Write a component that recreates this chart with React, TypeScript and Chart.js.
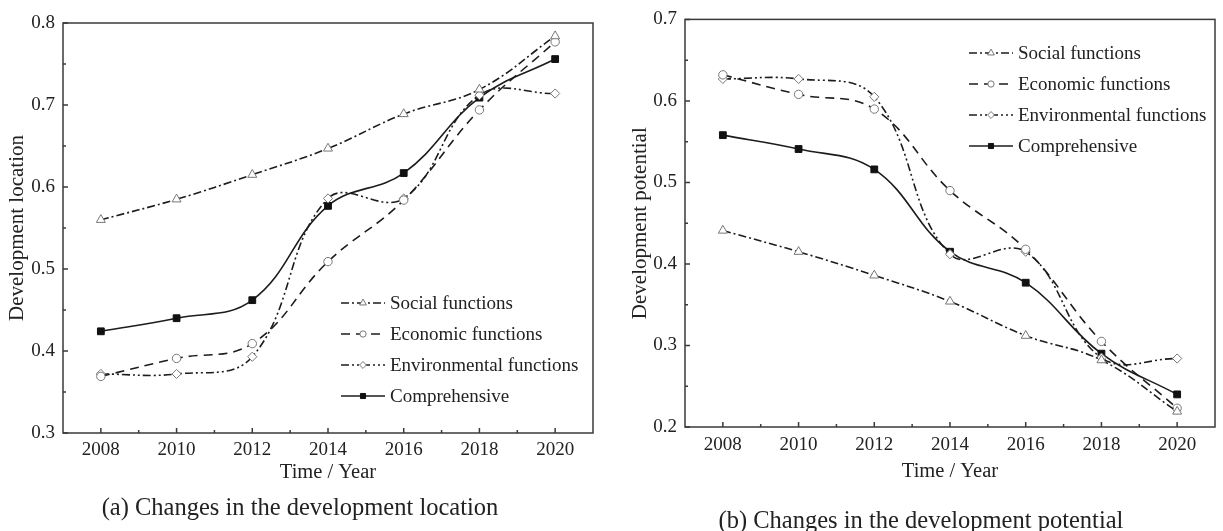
import React, { useEffect, useRef } from "react";
import { Chart, registerables } from "chart.js";

Chart.register(...registerables);

// ---------- data ----------
const years = [2008, 2010, 2012, 2014, 2016, 2018, 2020];
const xMinorTicks = [2009, 2011, 2013, 2015, 2017, 2019];

const seriesLabels = ["Social functions", "Economic functions", "Environmental functions", "Comprehensive"];

const locationYTicks = [0.3, 0.4, 0.5, 0.6, 0.7, 0.8];
const locationYMinor = [0.35, 0.45, 0.55, 0.65, 0.75];
const locationSocial = [0.56, 0.585, 0.615, 0.647, 0.689, 0.719, 0.784];
const locationEconomic = [0.369, 0.391, 0.409, 0.509, 0.584, 0.694, 0.777];
const locationEnvironmental = [0.372, 0.372, 0.393, 0.586, 0.586, 0.712, 0.714];
const locationComprehensive = [0.424, 0.44, 0.462, 0.577, 0.617, 0.709, 0.756];

const potentialYTicks = [0.2, 0.3, 0.4, 0.5, 0.6, 0.7];
const potentialYMinor = [0.25, 0.35, 0.45, 0.55, 0.65];
const potentialSocial = [0.441, 0.415, 0.386, 0.354, 0.312, 0.282, 0.219];
const potentialEconomic = [0.632, 0.608, 0.59, 0.49, 0.418, 0.305, 0.223];
const potentialEnvironmental = [0.627, 0.627, 0.605, 0.412, 0.415, 0.285, 0.284];
const potentialComprehensive = [0.558, 0.541, 0.516, 0.415, 0.377, 0.29, 0.24];

// ---------- styling ----------
const FONT = "'Liberation Serif', 'Times New Roman', serif";
const TEXT = "#222";
const LINE = "#1c1c1c";
const OPEN = "#777";

const styles = [
  { dash: [8, 3, 2, 3], point: "triangle", radius: 5.2, fill: "#fff", stroke: OPEN },
  { dash: [9, 6], point: "circle", radius: 4.2, fill: "#fff", stroke: OPEN },
  { dash: [8, 3, 2, 3, 2, 3], point: "rectRot", radius: 4.6, fill: "#fff", stroke: OPEN },
  { dash: [], point: "rect", radius: 4.8, fill: "#111", stroke: "#111" },
];

function drawMarker(ctx: CanvasRenderingContext2D, style: string, x: number, y: number, r: number) {
  ctx.beginPath();
  if (style === "triangle") {
    let rad = 0;
    ctx.moveTo(x + Math.sin(rad) * r, y - Math.cos(rad) * r);
    rad += (2 * Math.PI) / 3;
    ctx.lineTo(x + Math.sin(rad) * r, y - Math.cos(rad) * r);
    rad += (2 * Math.PI) / 3;
    ctx.lineTo(x + Math.sin(rad) * r, y - Math.cos(rad) * r);
    ctx.closePath();
  } else if (style === "circle") {
    ctx.arc(x, y, r, 0, Math.PI * 2);
  } else if (style === "rectRot") {
    ctx.moveTo(x - r, y);
    ctx.lineTo(x, y - r);
    ctx.lineTo(x + r, y);
    ctx.lineTo(x, y + r);
    ctx.closePath();
  } else {
    const s = Math.SQRT1_2 * r;
    ctx.rect(x - s, y - s, 2 * s, 2 * s);
  }
  ctx.fill();
  ctx.stroke();
}

const framePlugin = {
  id: "frame",
  afterDraw(chart: any, _args: any, opts: any) {
    const { ctx, chartArea: a, scales } = chart;
    const xs = scales.x;
    const ys = scales.y;
    ctx.save();
    ctx.strokeStyle = "#3a3a3a";
    ctx.lineWidth = 1.5;
    ctx.setLineDash([]);
    ctx.strokeRect(a.left, a.top, a.right - a.left, a.bottom - a.top);
    ctx.beginPath();
    years.forEach((v) => {
      const px = xs.getPixelForValue(v);
      ctx.moveTo(px, a.bottom);
      ctx.lineTo(px, a.bottom - 5);
    });
    xMinorTicks.forEach((v) => {
      const px = xs.getPixelForValue(v);
      ctx.moveTo(px, a.bottom);
      ctx.lineTo(px, a.bottom - 3);
    });
    (opts.yMajor as number[]).forEach((v) => {
      const py = ys.getPixelForValue(v);
      ctx.moveTo(a.left, py);
      ctx.lineTo(a.left + 5, py);
    });
    (opts.yMinor as number[]).forEach((v) => {
      const py = ys.getPixelForValue(v);
      ctx.moveTo(a.left, py);
      ctx.lineTo(a.left + 3, py);
    });
    ctx.stroke();

    // legend
    const lx = opts.legendX as number;
    let ly = opts.legendY as number;
    chart.data.datasets.forEach((ds: any, i: number) => {
      const st = styles[i];
      ctx.strokeStyle = LINE;
      ctx.lineWidth = 1.5;
      ctx.setLineDash(st.dash);
      ctx.beginPath();
      ctx.moveTo(lx, ly);
      ctx.lineTo(lx + 44, ly);
      ctx.stroke();
      ctx.setLineDash([]);
      ctx.lineWidth = 1;
      ctx.fillStyle = st.fill;
      ctx.strokeStyle = st.stroke;
      drawMarker(ctx, st.point, lx + 22, ly, st.radius * 0.75);
      ctx.fillStyle = TEXT;
      ctx.font = `19px ${FONT}`;
      ctx.textBaseline = "middle";
      ctx.textAlign = "left";
      ctx.fillText(ds.label, lx + 49, ly + 1);
      ly += 31;
    });
    ctx.restore();
  },
};

function makeDatasets(series: number[][]) {
  return series.map((vals, i) => {
    const st = styles[i];
    return {
      label: seriesLabels[i],
      data: years.map((x, j) => ({ x, y: vals[j] })),
      borderColor: LINE,
      borderWidth: 1.6,
      borderDash: st.dash,
      tension: 0.4,
      pointStyle: st.point,
      pointRadius: st.radius,
      pointBorderWidth: 1,
      pointBackgroundColor: st.fill,
      pointBorderColor: st.stroke,
      fill: false,
    };
  });
}

interface PanelProps {
  width: number;
  height: number;
  series: number[][];
  yTicks: number[];
  yMinor: number[];
  yTitle: string;
  yAxisWidth: number;
  yTitlePad: number;
  xAxisHeight: number;
  xTickPad: number;
  padding: { left: number; right: number; top: number; bottom: number };
  legendX: number;
  legendY: number;
}

function Panel(p: PanelProps) {
  const ref = useRef<HTMLCanvasElement | null>(null);
  useEffect(() => {
    if (!ref.current) return;
    const chart = new Chart(ref.current, {
      type: "line",
      data: { datasets: makeDatasets(p.series) as any },
      options: {
        responsive: false,
        animation: false,
        devicePixelRatio: 1,
        layout: { padding: p.padding },
        plugins: {
          legend: { display: false },
          tooltip: { enabled: false },
          frame: { yMajor: p.yTicks, yMinor: p.yMinor, legendX: p.legendX, legendY: p.legendY },
        } as any,
        scales: {
          x: {
            type: "linear",
            min: 2007,
            max: 2021,
            grid: { display: false, drawTicks: false },
            border: { display: false },
            afterBuildTicks: (scale: any) => {
              scale.ticks = years.map((value) => ({ value }));
            },
            afterFit: (scale: any) => {
              scale.height = p.xAxisHeight;
            },
            ticks: {
              autoSkip: false,
              maxRotation: 0,
              padding: p.xTickPad,
              color: TEXT,
              font: { family: FONT, size: 19 },
              callback: (v: any) => String(v),
            },
            title: {
              display: true,
              text: "Time / Year",
              color: TEXT,
              font: { family: FONT, size: 20.5 },
              padding: { top: 0, bottom: 0 },
            },
          },
          y: {
            type: "linear",
            min: p.yTicks[0],
            max: p.yTicks[p.yTicks.length - 1],
            grid: { display: false, drawTicks: false },
            border: { display: false },
            afterBuildTicks: (scale: any) => {
              scale.ticks = p.yTicks.map((value) => ({ value }));
            },
            afterFit: (scale: any) => {
              scale.width = p.yAxisWidth;
            },
            ticks: {
              padding: 8,
              color: TEXT,
              font: { family: FONT, size: 19 },
              callback: (v: any) => Number(v).toFixed(1),
            },
            title: {
              display: true,
              text: p.yTitle,
              color: TEXT,
              font: { family: FONT, size: 21 },
              padding: { top: p.yTitlePad, bottom: 0 },
            },
          },
        },
      },
      plugins: [framePlugin as any],
    });
    return () => chart.destroy();
  }, []);
  return <canvas ref={ref} width={p.width} height={p.height} style={{ display: "block", width: p.width, height: p.height }} />;
}

const captionStyle: React.CSSProperties = {
  position: "absolute",
  width: 600,
  textAlign: "center",
  fontFamily: FONT,
  fontSize: 24.5,
  lineHeight: "28px",
  color: TEXT,
  whiteSpace: "nowrap",
};

export default function App() {
  return (
    <div style={{ position: "absolute", left: 0, top: 0, width: 1223, height: 531, background: "#fff", overflow: "hidden" }}>
      <div style={{ position: "absolute", left: 0, top: 0 }}>
        <Panel
          width={610}
          height={531}
          series={[locationSocial, locationEconomic, locationEnvironmental, locationComprehensive]}
          yTicks={locationYTicks}
          yMinor={locationYMinor}
          yTitle="Development location"
          yAxisWidth={63}
          yTitlePad={4.4}
          xAxisHeight={52.3}
          xTickPad={6}
          padding={{ left: 0, right: 17, top: 23, bottom: 45.7 }}
          legendX={341}
          legendY={303}
        />
      </div>
      <div style={{ position: "absolute", left: 610, top: 0 }}>
        <Panel
          width={613}
          height={531}
          series={[potentialSocial, potentialEconomic, potentialEnvironmental, potentialComprehensive]}
          yTicks={potentialYTicks}
          yMinor={potentialYMinor}
          yTitle="Development potential"
          yAxisWidth={75}
          yTitlePad={17.4}
          xAxisHeight={57.3}
          xTickPad={6.6}
          padding={{ left: 0, right: 8, top: 16, bottom: 46.7 }}
          legendX={359}
          legendY={53}
        />
      </div>
      <div style={{ ...captionStyle, left: 0, top: 493 }}>(a) Changes in the development location</div>
      <div style={{ ...captionStyle, left: 621, top: 506 }}>(b) Changes in the development potential</div>
    </div>
  );
}
